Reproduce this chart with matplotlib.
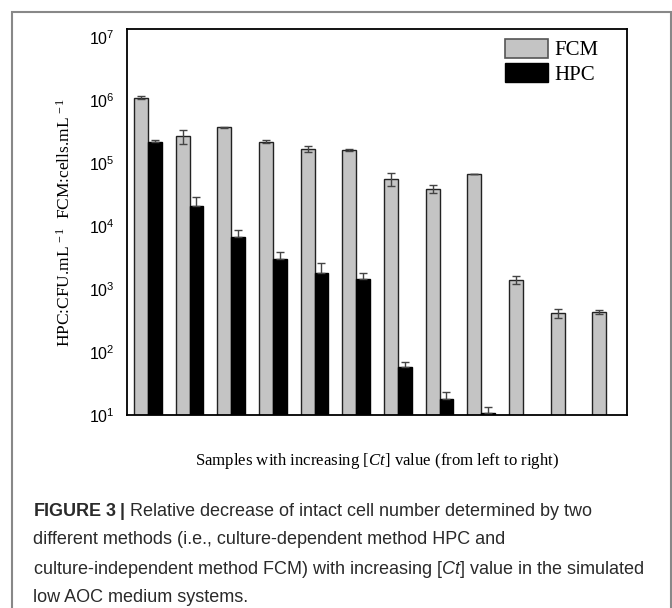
import numpy as np
import matplotlib
matplotlib.use('Agg')
import matplotlib.pyplot as plt
from matplotlib.patches import Patch, Rectangle

plt.rcParams['mathtext.fontset'] = 'custom'
plt.rcParams['mathtext.rm'] = 'Liberation Serif'
plt.rcParams['mathtext.it'] = 'Liberation Serif:italic'
plt.rcParams['mathtext.bf'] = 'Liberation Sans:bold'
plt.rcParams['mathtext.sf'] = 'Liberation Sans:italic'

# 12 samples, left to right with increasing [Ct]
fcm = [1.1e6, 2.7e5, 3.7e5, 2.2e5, 1.7e5, 1.6e5, 5.6e4, 3.9e4, 6.7e4, 1.4e3, 4.2e2, 4.3e2]
fcm_err = [0.5e5, 0.7e5, 0.1e5, 0.15e5, 0.2e5, 0.05e5, 1.3e4, 0.6e4, 0.1e4, 0.2e3, 0.7e2, 0.3e2]
hpc = [2.2e5, 2.1e4, 6.7e3, 3.0e3, 1.8e3, 1.45e3, 58, 18, 10.7, np.nan, np.nan, np.nan]
hpc_err = [0.1e5, 0.75e4, 2.0e3, 0.9e3, 0.8e3, 0.36e3, 12, 5, 2.8, 0, 0, 0]

caption_lines = [
    r"$\mathbf{FIGURE\ 3\ |}$ Relative decrease of intact cell number determined by two",
    "different methods (i.e., culture-dependent method HPC and",
    r"culture-independent method FCM) with increasing [$\mathsf{Ct}$] value in the simulated",
    "low AOC medium systems.",
]

fig = plt.figure(figsize=(6.72, 6.08), dpi=100)
ax = fig.add_axes([127 / 672, 1 - 415 / 608, 500 / 672, 386 / 608])

x = np.arange(len(fcm))
w = 0.335
ax.bar(x - w / 2, fcm, w, color='#c4c4c4', edgecolor='#222222', linewidth=1.0, zorder=2)
ax.bar(x + w / 2, hpc, w, color='black', edgecolor='black', linewidth=1.0, zorder=2)
ax.errorbar(x - w / 2, fcm, yerr=fcm_err, fmt='none', ecolor='#444444',
            elinewidth=1, capsize=3, capthick=1, zorder=3)
hpc_up = np.array(hpc_err)
ax.errorbar(x + w / 2, hpc, yerr=[np.zeros_like(hpc_up), hpc_up], fmt='none',
            ecolor='#444444', elinewidth=1, capsize=3, capthick=1, zorder=3)

ax.set_yscale('log')
ax.set_ylim(10, 10 ** 7.13)
ax.set_xlim(-0.5, len(fcm) - 0.5)
ax.set_xticks([])
ticks = [10 ** k for k in range(1, 8)]
ax.set_yticks(ticks)
ax.set_yticklabels([r'$\mathregular{10^{%d}}$' % k for k in range(1, 8)],
                   fontsize=11.5, family='Liberation Sans')
ax.minorticks_off()
ax.tick_params(axis='y', length=0, pad=9)
for s in ax.spines.values():
    s.set_linewidth(1.3)
    s.set_color('black')

handles = [Patch(facecolor='#c4c4c4', edgecolor='#555555', linewidth=1.2, label='FCM'),
           Patch(facecolor='black', edgecolor='black', label='HPC')]
ax.legend(handles=handles, loc='upper left', bbox_to_anchor=(0.755, 0.975),
          frameon=False, prop={'family': 'Liberation Serif', 'size': 15},
          handlelength=2.1, handleheight=1.05, handletextpad=0.3,
          labelspacing=0.12, borderpad=0, borderaxespad=0)

fig.text(65 / 672, 1 - 222 / 608,
         r'HPC:CFU.mL$\mathregular{^{\,-1}}$  FCM:cells.mL$\mathregular{^{\,-1}}$',
         rotation=90, ha='center', va='center', fontsize=12.5, family='Liberation Serif')
fig.text(377 / 672, 1 - 461 / 608,
         r'Samples with increasing [$\mathit{Ct}$] value (from left to right)',
         ha='center', va='center', fontsize=12.1, family='Liberation Serif')

line_y = [511, 540, 569, 597]
for txt, yy in zip(caption_lines, line_y):
    fig.text(33 / 672, 1 - yy / 608, txt, ha='left', va='center',
             fontsize=13, family='Liberation Sans', color='#2a2a2a')

fig.patches.append(Rectangle((12 / 672, -0.05), 659 / 672, 1.05 - 12 / 608,
                             transform=fig.transFigure, fill=False,
                             edgecolor='#888888', linewidth=1.5))

fig.savefig('out.png', dpi=100)
